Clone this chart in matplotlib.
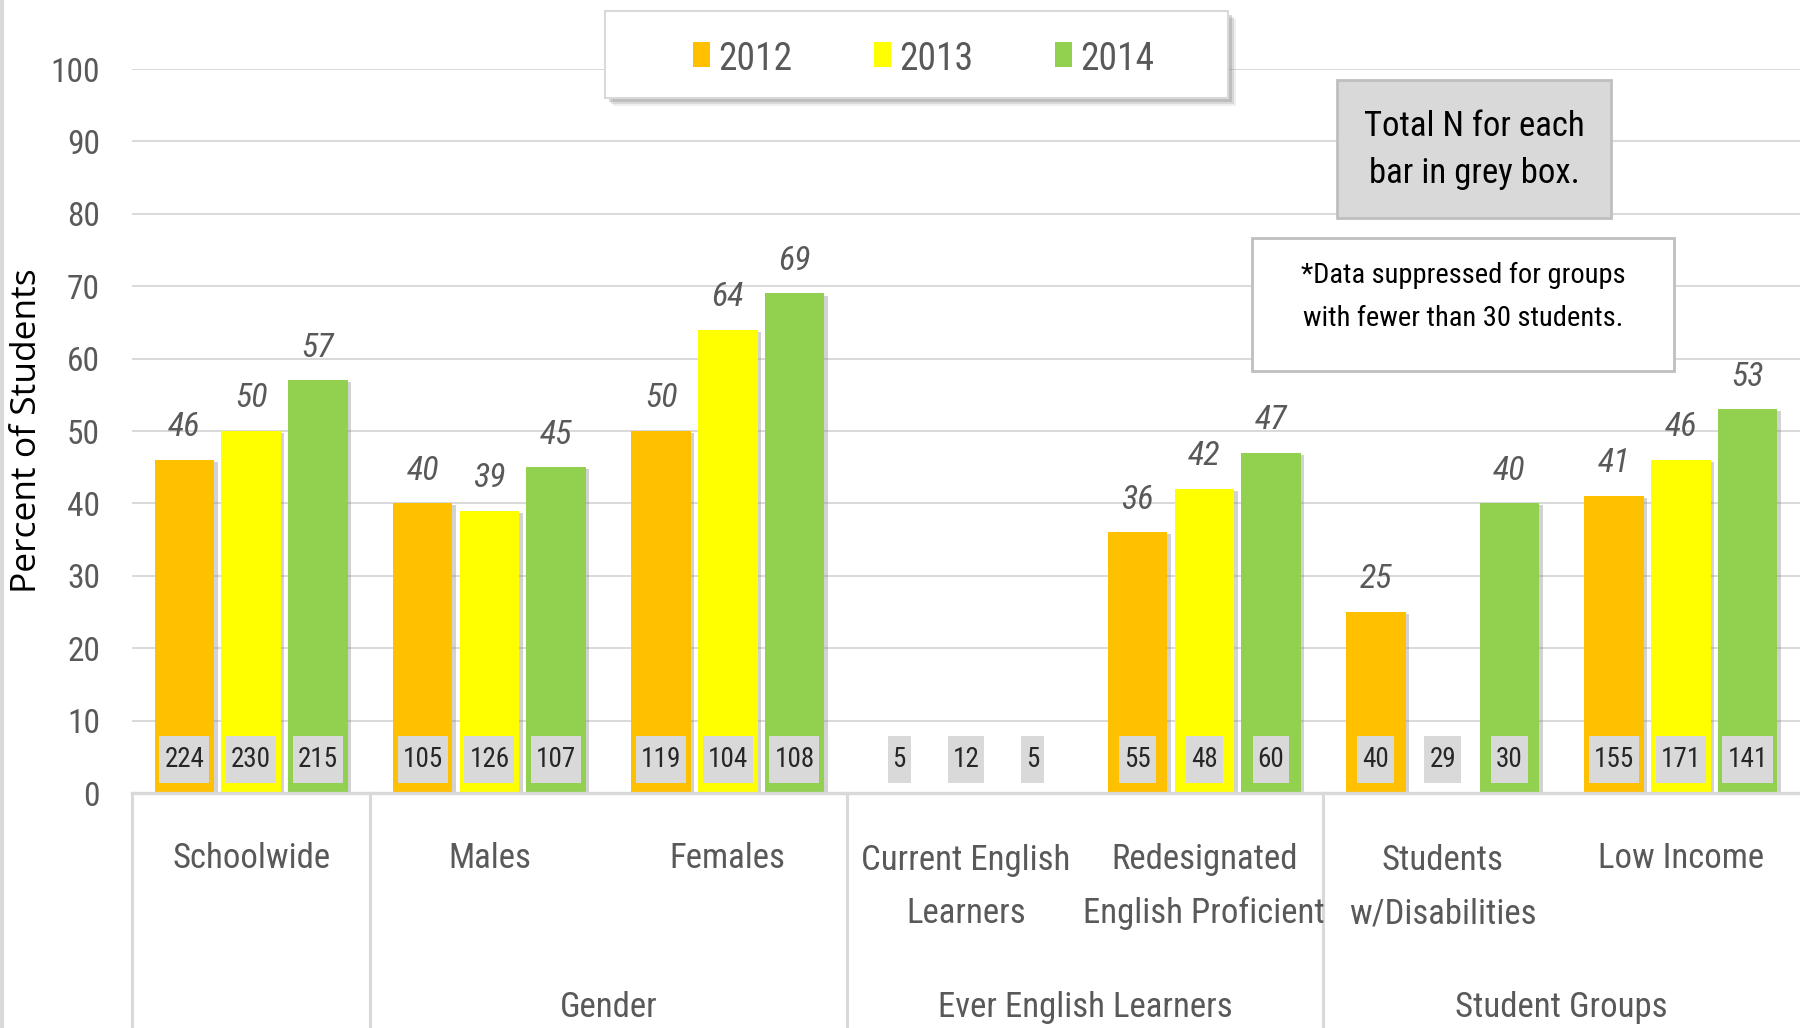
import matplotlib
matplotlib.use("Agg")
import matplotlib.pyplot as plt
import matplotlib.patheffects as pe
from matplotlib.patches import Rectangle
from matplotlib.transforms import blended_transform_factory
from matplotlib import font_manager
import numpy as np

categories = ["Schoolwide", "Males", "Females", "Current English\nLearners",
              "Redesignated\nEnglish Proficient", "Students\nw/Disabilities", "Low Income"]
groups = ["Gender", "Ever English Learners", "Student Groups"]
group_spans = [(1, 2), (3, 4), (5, 6)]
years = ["2012", "2013", "2014"]
pct_2012 = [46, 40, 50, None, 36, 25, 41]
pct_2013 = [50, 39, 64, None, 42, None, 46]
pct_2014 = [57, 45, 69, None, 47, 40, 53]
n_2012 = [224, 105, 119, 5, 55, 40, 155]
n_2013 = [230, 126, 104, 12, 48, 29, 171]
n_2014 = [215, 107, 108, 5, 60, 30, 141]
colors = ["#FFC000", "#FFFF00", "#92D050"]
yticks = list(range(0, 101, 10))

avail = {f.name for f in font_manager.fontManager.ttflist}


def pick(cands):
    for c in cands:
        if c in avail:
            return [c, "DejaVu Sans"]
    return ["DejaVu Sans"]


COND = pick(["Roboto Condensed", "Fira Sans Condensed", "PT Sans Narrow",
             "Archivo Narrow", "Carlito", "Liberation Sans"])
WIDE = pick(["Open Sans", "Noto Sans", "DejaVu Sans"])

W, H = 1800, 1028
Y0, Y100, XL = 793, 69, 132
fig = plt.figure(figsize=(W / 100, H / 100), dpi=100)
ax = fig.add_axes([XL / W, (H - Y0) / H, 1 - XL / W, (Y0 - Y100) / H])
ax.set_xlim(-0.5, len(categories) - 0.5)
ax.set_ylim(0, 100)
px_per_unit = (Y0 - Y100) / 100.0

x = np.arange(len(categories))
offsets = [-0.28, 0.0, 0.28]
bw = 0.25
series = [pct_2012, pct_2013, pct_2014]
ns = [n_2012, n_2013, n_2014]
shadow = [pe.SimplePatchShadow(offset=(2.5, -1.5), shadow_rgbFace="#7f7f7f", alpha=0.35), pe.Normal()]

ntexts = []
for vals, nvals, col, off in zip(series, ns, colors, offsets):
    xs = x + off
    heights = [v if v is not None else 0 for v in vals]
    bars = ax.bar(xs, heights, width=bw, color=col, zorder=3)
    for b, v in zip(bars, vals):
        if v is None:
            b.set_visible(False)
        else:
            b.set_path_effects(shadow)
            ax.annotate(str(v), (b.get_x() + b.get_width() / 2, v), xytext=(0, 12),
                        textcoords="offset points", ha="center", va="bottom",
                        fontsize=24.5, style="italic", color="#595959",
                        family=COND, zorder=5)
    for xi, nv in zip(xs, nvals):
        t = ax.text(xi, 4.63, str(nv), ha="center", va="center", fontsize=19.5,
                    color="#262626", family=COND, zorder=7)
        ntexts.append(t)

# axes styling
for s in ax.spines.values():
    s.set_visible(False)
ax.set_yticks(yticks)
ax.set_yticklabels([str(t) for t in yticks], fontsize=24, color="#595959", family=COND)
ax.tick_params(axis="y", length=0, pad=23)
ax.tick_params(axis="x", length=0, labelbottom=False)
ax.yaxis.grid(True, color="#D9D9D9", linewidth=1.4, zorder=0)
ax.set_axisbelow(True)
ax.set_ylabel("Percent of Students", fontsize=25.5, color="#000000", family=WIDE)
ax.yaxis.label.set_va("center")
ax.yaxis.set_label_coords((27 - XL) / (W - XL), 0.5)

# category axis area
tr = blended_transform_factory(ax.transData, ax.transAxes)
bottom_ax = -(H - Y0) / (Y0 - Y100)
ax.plot([-0.5, len(categories) - 0.5], [0, 0], transform=tr, color="#D9D9D9", lw=2.4,
        clip_on=False, zorder=4)
for xv in [-0.5, 0.5, 2.5, 4.5]:
    ax.plot([xv, xv], [0, bottom_ax], transform=tr, color="#D9D9D9", lw=2.2, clip_on=False)

LINE_PX = 55
for xi, lab in zip(x, categories):
    nlines = lab.count("\n") + 1
    base = 868 + LINE_PX * (nlines - 1)   # baseline of last line
    ax.text(xi, -(base - Y0) / px_per_unit, lab, ha="center", va="baseline", fontsize=25,
            color="#595959", family=COND, linespacing=1.775, clip_on=False)
for g, (a, b) in zip(groups, group_spans):
    ax.text((a + b) / 2, -(1017 - Y0) / px_per_unit, g, ha="center", va="baseline", fontsize=25,
            color="#595959", family=COND, clip_on=False)

# grey boxes behind the N labels, sized from the rendered text
fig.canvas.draw()
renderer = fig.canvas.get_renderer()
inv = ax.transData.inverted()
for t in ntexts:
    bb = t.get_window_extent(renderer)
    cx = (bb.x0 + bb.x1) / 2
    cy = (bb.y0 + bb.y1) / 2
    wpx = bb.width + 10
    hpx = 47
    (dx0, dy0) = inv.transform((cx - wpx / 2, cy - hpx / 2))
    (dx1, dy1) = inv.transform((cx + wpx / 2, cy + hpx / 2))
    ax.add_patch(Rectangle((dx0, dy0), dx1 - dx0, dy1 - dy0, fc="#D9D9D9", ec="none", zorder=6))


def fx(p):
    return p / W


def fy(p):
    return 1 - p / H


# legend (framed box with shadow)
LX0, LY0, LX1, LY1 = 605, 11, 1228, 98
for k, a in [(8, 0.12), (6, 0.2), (4, 0.3)]:
    fig.patches.append(Rectangle((fx(LX0 + k), fy(LY1 + k)), (LX1 - LX0) / W, (LY1 - LY0) / H,
                                 transform=fig.transFigure, fc="#7f7f7f", ec="none", alpha=a, zorder=8))
fig.patches.append(Rectangle((fx(LX0), fy(LY1)), (LX1 - LX0) / W, (LY1 - LY0) / H,
                             transform=fig.transFigure, fc="white", ec="#D9D9D9", lw=1.5, zorder=9))
marker_x = [693, 874, 1055]
for mx, c, yr in zip(marker_x, colors, years):
    fig.patches.append(Rectangle((fx(mx), fy(67)), 17 / W, 25 / H, transform=fig.transFigure,
                                 fc=c, ec="none", zorder=10))
    fig.text(fx(mx + 25), fy(55), yr, ha="left", va="center_baseline", fontsize=27,
             color="#595959", family=COND, zorder=10)

# grey note box
fig.patches.append(Rectangle((fx(1337), fy(218)), (1611 - 1337) / W, (218 - 80) / H,
                             transform=fig.transFigure, fc="#D9D9D9", ec="#BFBFBF", lw=2, zorder=5))
fig.text(fx((1337 + 1611) / 2), fy(150), "Total N for each\nbar in grey box.", ha="center",
         va="center", fontsize=25, color="#000000", family=COND, linespacing=1.55, zorder=6)
# suppression note box
fig.patches.append(Rectangle((fx(1252), fy(371)), (1674 - 1252) / W, (371 - 238) / H,
                             transform=fig.transFigure, fc="white", ec="#BFBFBF", lw=2, zorder=5))
fig.text(fx((1252 + 1674) / 2), fy(297), "*Data suppressed for groups\nwith fewer than 30 students.",
         ha="center", va="center", fontsize=20.5, color="#000000", family=COND, linespacing=1.8, zorder=6)

# left border line
fig.add_artist(plt.Line2D([1.5 / W, 1.5 / W], [0, 1], transform=fig.transFigure, color="#D9D9D9", lw=3))

fig.savefig("out.png", dpi=100)
